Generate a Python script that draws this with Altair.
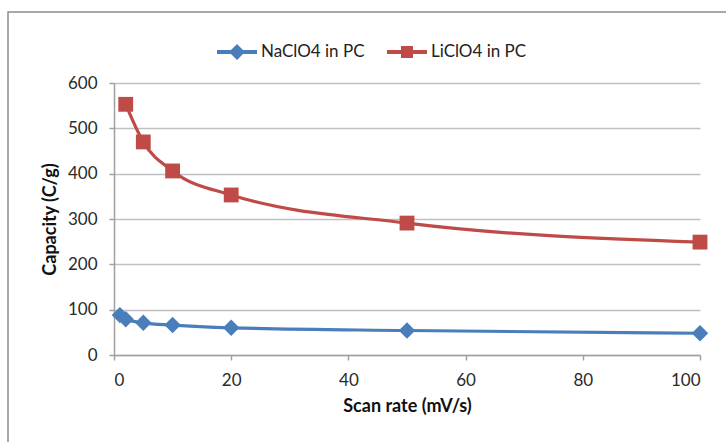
import altair as alt
import pandas as pd

# Scan rate (mV/s) and capacity (C/g) for each electrolyte
na_rate = [1, 2, 5, 10, 20, 50, 100]
na_capacity = [88, 79, 71, 66, 60, 54, 48]
li_rate = [2, 5, 10, 20, 50, 100]
li_capacity = [553, 470, 406, 353, 291, 249]

series_names = ["NaClO4 in PC", "LiClO4 in PC"]
series_colors = ["#4A7EBB", "#BE4B48"]

df = pd.concat([
    pd.DataFrame({"rate": na_rate, "capacity": na_capacity, "series": series_names[0]}),
    pd.DataFrame({"rate": li_rate, "capacity": li_capacity, "series": series_names[1]}),
])

FONT = "Lato"

color_scale = alt.Scale(domain=series_names, range=series_colors)
x_enc = alt.X("rate:Q", title="Scan rate (mV/s)",
              scale=alt.Scale(domain=[0, 100], nice=False),
              axis=alt.Axis(values=[0, 20, 40, 60, 80, 100], grid=False))
y_enc = alt.Y("capacity:Q", title="Capacity (C/g)",
              scale=alt.Scale(domain=[0, 600], nice=False),
              axis=alt.Axis(values=[0, 100, 200, 300, 400, 500, 600], grid=True))

lines = alt.Chart(df).mark_line(interpolate="monotone", strokeWidth=3.2).encode(
    x=x_enc, y=y_enc,
    color=alt.Color("series:N", scale=color_scale, legend=None),
    detail="series:N",
)

points = alt.Chart(df).mark_point(filled=True, opacity=1).encode(
    x="rate:Q", y="capacity:Q",
    color=alt.Color("series:N", scale=color_scale, legend=None),
    shape=alt.Shape("series:N", scale=alt.Scale(domain=series_names, range=["diamond", "square"]),
                    legend=None),
    size=alt.Size("series:N", scale=alt.Scale(domain=series_names, range=[270, 220]),
                  legend=None),
)

# legend glyphs: a line segment with the series marker on it
diamond_glyph = "M-1,-0.1L-0.3,-0.1L0,-0.4L0.3,-0.1L1,-0.1L1,0.1L0.3,0.1L0,0.4L-0.3,0.1L-1,0.1Z"
square_glyph = "M-1,-0.1L-0.3,-0.1L-0.3,-0.3L0.3,-0.3L0.3,-0.1L1,-0.1L1,0.1L0.3,0.1L0.3,0.3L-0.3,0.3L-0.3,0.1L-1,0.1Z"

legend_opts = dict(
    title=None, orient="none", direction="horizontal",
    legendX=103, legendY=-51, padding=0, columnPadding=22,
    labelOffset=4, symbolSize=1600, symbolStrokeWidth=0,
    labelFont=FONT, labelFontSize=17, labelColor="#222",
)

legend_layer = alt.Chart(df).transform_filter("false").mark_point(
    filled=True, opacity=1, size=1600, strokeWidth=0
).encode(
    x="rate:Q", y="capacity:Q",
    color=alt.Color("series:N", scale=alt.Scale(domain=series_names, range=series_colors),
                    legend=alt.Legend(**legend_opts)),
    shape=alt.Shape(
        "series:N",
        scale=alt.Scale(domain=series_names, range=[diamond_glyph, square_glyph]),
        legend=alt.Legend(**legend_opts),
    ),
)

# outer chart frame
frame = alt.Chart(pd.DataFrame({"k": [0]})).mark_rect(
    fill=None, stroke="#8c8c8c", strokeWidth=1.5
).encode(
    x=alt.value(-106), x2=alt.value(630),
    y=alt.value(-71), y2=alt.value(380),
)

chart = alt.layer(frame, lines, points, legend_layer).resolve_scale(
    shape="independent", color="independent", size="independent"
).properties(
    width=586, height=272,
    background="white",
    autosize=alt.AutoSizeParams(type="none"),
    padding={"left": 114, "top": 83, "right": 26, "bottom": 87},
).configure_view(stroke=None).configure_axis(
    labelFont=FONT, labelFontSize=17, labelColor="#2a2a2a",
    titleFont=FONT, titleFontSize=18, titleFontWeight="bold", titleColor="#111",
    domainColor="#a0a0a0", domainWidth=1.5,
    tickColor="#a0a0a0", tickWidth=1.5, tickSize=5,
    gridColor="#c0c0c0", gridWidth=1.5,
).configure_axisX(
    labelPadding=12, titlePadding=9,
).configure_axisY(
    labelPadding=12, titlePadding=8,
)

chart.save("out.html", embed_options={"renderer": "svg", "actions": False})
